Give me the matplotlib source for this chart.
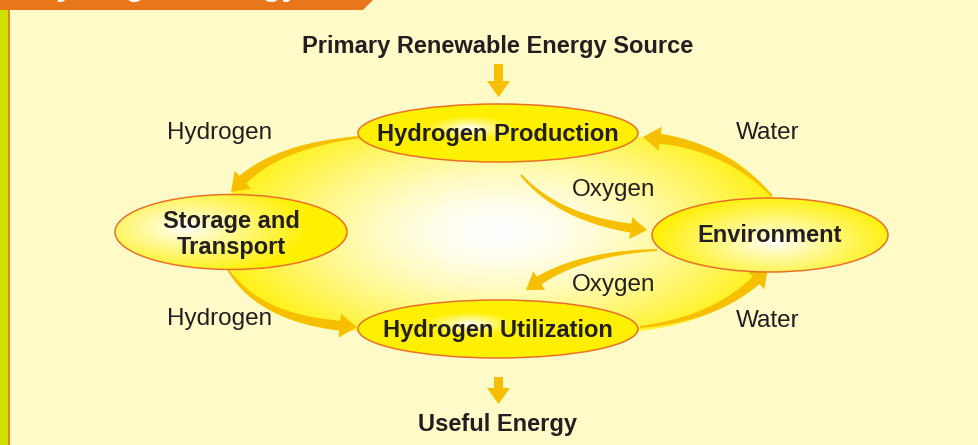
import numpy as np
import matplotlib
matplotlib.use("Agg")
import matplotlib.pyplot as plt
from matplotlib.patches import Ellipse, Polygon, PathPatch
from matplotlib.path import Path

plt.rcParams['font.family'] = ['Liberation Sans', 'DejaVu Sans']

# --- chart content ---
banner_title = "Hydrogen Energy"
top_label = "Primary Renewable Energy Source"
bottom_label = "Useful Energy"
node_names = ["Hydrogen Production", "Storage and\nTransport", "Environment", "Hydrogen Utilization"]
flow_labels = ["Hydrogen", "Water", "Oxygen", "Oxygen", "Hydrogen", "Water"]

BG = "#FFFBC8"
ARROW = "#F6C000"
EDGE = "#E9722A"
YELLOW = np.array([255, 240, 0]) / 255
WHITE = np.array([255, 255, 255]) / 255
TEXT = "#231F20"

W, H = 979, 445
fig = plt.figure(figsize=(W / 100, H / 100), dpi=100)
ax = fig.add_axes([0, 0, 1, 1])
ax.set_xlim(0, W)
ax.set_ylim(H, 0)
ax.axis("off")
fig.patch.set_facecolor(BG)


def gradient_fill(patch, cx, cy, rx, ry, gamma=1.0, zorder=1):
    ext = patch.get_extents()
    inv = ax.transData.inverted()
    (ax0, ay0), (ax1, ay1) = inv.transform([[ext.x0, ext.y0], [ext.x1, ext.y1]])
    xa, xb = min(ax0, ax1) - 2, max(ax0, ax1) + 2
    ya, yb = min(ay0, ay1) - 2, max(ay0, ay1) + 2
    xs = np.linspace(xa, xb, 300)
    ys = np.linspace(ya, yb, 200)
    X, Y = np.meshgrid(xs, ys)
    t = np.clip(np.sqrt(((X - cx) / rx) ** 2 + ((Y - cy) / ry) ** 2), 0, 1) ** gamma
    img = WHITE[None, None, :] * (1 - t[..., None]) + YELLOW[None, None, :] * t[..., None]
    im = ax.imshow(img, extent=(xa, xb, yb, ya), origin="upper", zorder=zorder,
                   interpolation="bilinear", aspect="auto")
    im.set_clip_path(patch)


def bez(p0, c, p1, t):
    p0, c, p1 = map(np.asarray, (p0, c, p1))
    return ((1 - t) ** 2)[:, None] * p0 + (2 * (1 - t) * t)[:, None] * c + (t ** 2)[:, None] * p1


def curved_arrow(p0, c, p1, w0, w1, head_len, head_w, color=ARROW, zorder=3):
    ts = np.linspace(0, 1, 400)
    pts = bez(p0, c, p1, ts)
    seg = np.r_[0, np.cumsum(np.hypot(*np.diff(pts, axis=0).T))]
    keep = seg <= seg[-1] - head_len
    shaft = pts[keep]
    d = np.gradient(shaft, axis=0)
    d /= np.hypot(d[:, 0], d[:, 1])[:, None]
    n = np.c_[-d[:, 1], d[:, 0]]
    w = np.linspace(w0, w1, len(shaft))[:, None] / 2
    left = shaft + n * w
    right = shaft - n * w
    base = shaft[-1]
    nb = n[-1]
    tip = np.asarray(p1, float)
    poly = np.vstack([left, base + nb * head_w / 2, tip, base - nb * head_w / 2, right[::-1]])
    ax.add_patch(Polygon(poly, closed=True, facecolor=color, edgecolor="none", zorder=zorder))


# left side bars and banner (title runs off the top edge, only descenders show)
ax.add_patch(Polygon([[0, 0], [8, 0], [8, H], [0, H]], facecolor="#CCE100", edgecolor="none", zorder=5))
ax.add_patch(Polygon([[8, 0], [10, 0], [10, H], [8, H]], facecolor="#E8821E", edgecolor="none", zorder=5))
ax.add_patch(Polygon([[0, 0], [373, 0], [363, 10], [0, 10]], facecolor="#E8771C", edgecolor="none", zorder=6))
ax.text(33, -5, banner_title, color="white", fontsize=23, fontweight="bold",
        ha="left", va="baseline", zorder=7, clip_on=True)

# central glow region bounded by the outer arrows
glow_verts = [(365, 135), (268, 144), (230, 195), (230, 268), (258, 327), (358, 331),
              (640, 331), (724, 322), (770, 270), (772, 196), (724, 134), (640, 137), (365, 135)]
glow_codes = [Path.MOVETO, Path.CURVE3, Path.CURVE3, Path.LINETO, Path.CURVE3, Path.CURVE3,
              Path.LINETO, Path.CURVE3, Path.CURVE3, Path.LINETO, Path.CURVE3, Path.CURVE3, Path.CLOSEPOLY]
glow = PathPatch(Path(glow_verts, glow_codes), facecolor="none", edgecolor="none", zorder=1)
ax.add_patch(glow)
gradient_fill(glow, 500, 232, 300, 135, gamma=1.6, zorder=1)

# cycle arrows
curved_arrow((362, 137), (268, 146), (231, 192), 2, 10, 17, 24)
curved_arrow((226, 266), (258, 322), (357, 327), 2, 10, 17, 24)
curved_arrow((640, 327), (725, 318), (768, 268), 2, 10, 17, 24)
curved_arrow((772, 196), (722, 142), (643, 137), 2, 10, 17, 24)
curved_arrow((521, 175), (562, 222), (647, 230), 2, 9, 16, 22)
curved_arrow((657, 250), (570, 254), (526, 290), 2, 9, 16, 22)

# vertical arrows
for ys, ye in [(64, 97), (377, 404)]:
    ax.add_patch(Polygon([[494, ys], [503, ys], [503, ye - 16], [510, ye - 16], [498.5, ye],
                          [487, ye - 16], [494, ye - 16]], facecolor=ARROW, edgecolor="none", zorder=3))

# nodes: (center x, center y, width, height, highlight x, highlight y)
node_geom = [(498, 133, 280, 58, 470, 128), (231, 232, 232, 75, 185, 228),
             (770, 235, 236, 74, 775, 242), (498, 329, 280, 58, 470, 324)]
node_hl = [(45, 12), (125, 50), (125, 48), (45, 12)]
text_dy = [1, 2.5, 1, 1]
for name, (cx, cy, w, h, hx, hy), (rx, ry), dy in zip(node_names, node_geom, node_hl, text_dy):
    e = Ellipse((cx, cy), w, h, facecolor="none", edgecolor=EDGE, linewidth=1.1, zorder=4.5)
    ax.add_patch(e)
    gradient_fill(e, hx, hy, rx, ry, gamma=0.9, zorder=4)
    ax.text(cx, cy + dy, name, ha="center", va="center", fontsize=17, fontweight="bold",
            color=TEXT, zorder=5, linespacing=1.22)

ax.text(498, 46, top_label, ha="center", va="center", fontsize=17, fontweight="bold", color=TEXT)
ax.text(498, 425, bottom_label, ha="center", va="center", fontsize=17, fontweight="bold", color=TEXT)

label_pos = [(220, 133), (768, 133), (614, 190), (614, 285), (220, 319), (768, 321)]
for txt, (x, y) in zip(flow_labels, label_pos):
    ax.text(x, y, txt, ha="center", va="center", fontsize=17.5, color=TEXT, zorder=5)

fig.savefig("out.png", dpi=100, facecolor=BG)
